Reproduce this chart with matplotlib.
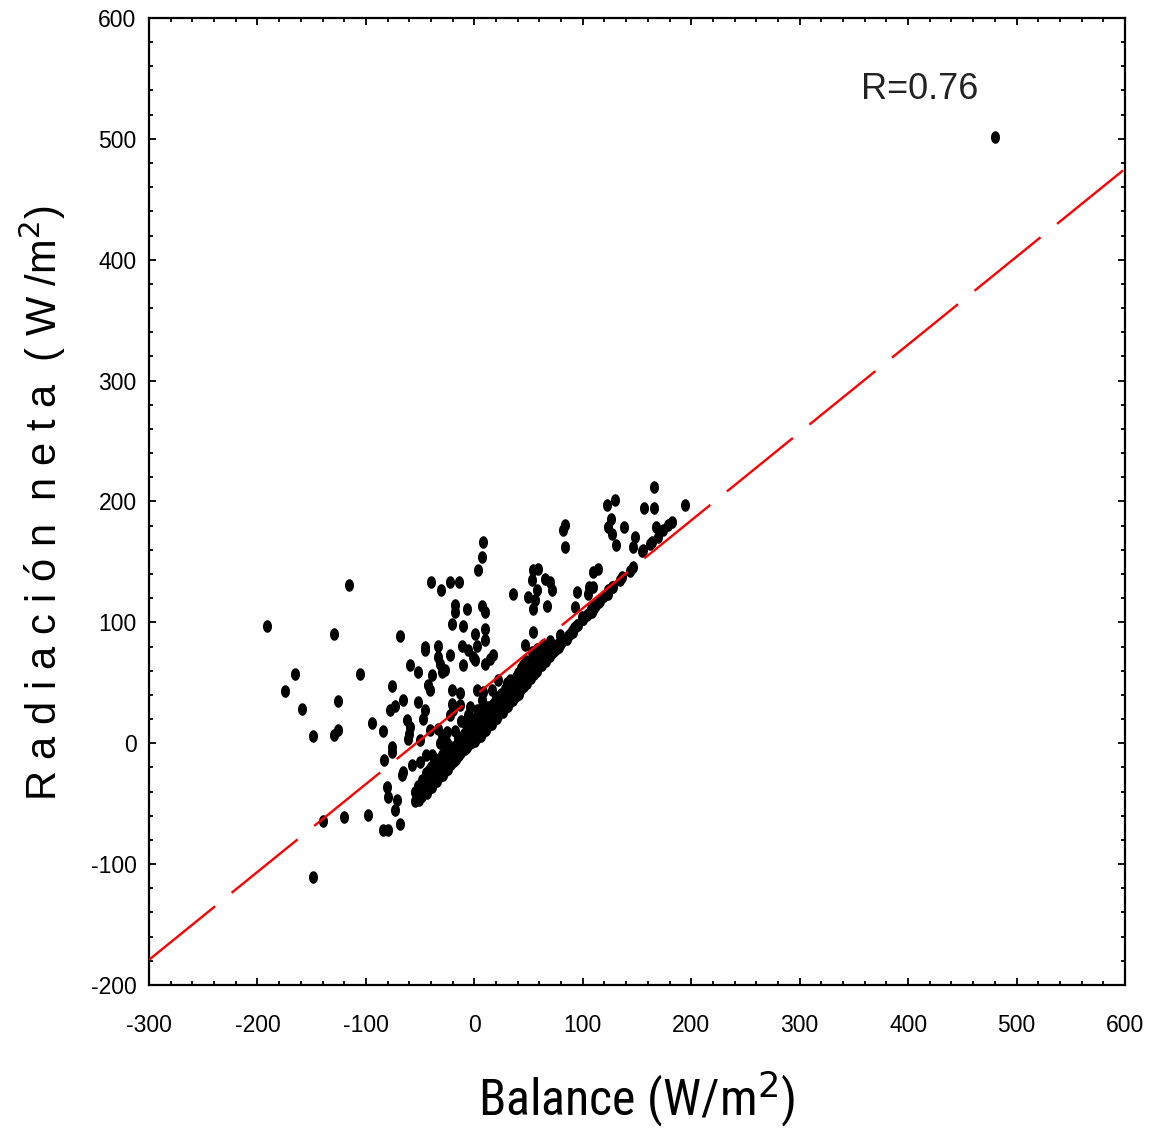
import numpy as np
import matplotlib
matplotlib.use("Agg")
import matplotlib.pyplot as plt
from matplotlib.path import Path
from matplotlib.ticker import MultipleLocator
from matplotlib import font_manager

plt.rcParams["axes.unicode_minus"] = False

# ---------------- data ----------------
outlier_x = [-191.5, -165.3, -174.3, -158.6, -148.5, -115.6, -129.4, -126.0, -129.4, -126.0,
             -140.0, -120.0, -149.0, -105.4, -94.6, -98.0, -84.5, -76.2, -69.0, -83.0,
             -76.2, -76.2, -80.8, -79.3, -71.6, -73.1, -68.5, -83.9, -79.3, -72.8,
             -77.7, -65.5, -62.3, -59.3, -60.9, -59.9, -50.0, -57.7, -50.0, -65.5,
             -66.9, -59.3, -51.6, -51.6, -45.5, -47.0, -45.5, -45.5, -33.2, -39.3,
             -42.4, -40.9, -40.0, -31.0, -22.4, -13.8]
outlier_y = [96.8, 57.6, 43.3, 28.7, 6.0, 131.0, 90.0, 35.0, 6.6, 10.8,
             -64.0, -61.0, -111.0, 57.6, 17.0, -59.0, 10.2, 47.4, 88.5, -14.0,
             -3.0, -7.2, -36.1, -44.4, -47.1, -55.4, -66.4, -72.0, -72.0, 30.9,
             27.3, 35.6, 19.0, 13.5, 3.9, 8.0, 2.5, -18.2, -15.5, -23.7,
             -26.5, 64.5, 59.0, 34.2, 27.3, 20.4, 79.7, 77.5, 80.2, 56.2,
             48.0, 43.8, 133.4, 127.0, 133.4, 133.4]

mid_x = [8.3, 6.8, 3.7, -17.8, -17.8, -7.0, 6.8, 9.9, -20.8, -10.1,
         0.6, 9.9, 9.9, -33.2, -22.4, -31.6, -27.0, -30.0, -11.6, 2.2,
         -5.5, -0.9, 0.6, 9.9, 14.5, 17.5, -10.1, -20.8, -13.2, 2.2,
         8.3, 16.0, 22.1, -20.8, -19.4, -13.2, -22.4, -4.0, -5.5, 2.2,
         11.4, 6.8, -40.9, -33.2, -30.0, -25.5, -39.3, -36.2]
mid_y = [166.5, 154.0, 143.7, 114.0, 108.6, 111.4, 113.3, 108.6, 99.0, 96.8,
         90.2, 94.9, 85.2, 71.4, 72.8, 65.9, 60.4, 59.0, 80.2, 80.2,
         77.5, 71.4, 68.7, 65.9, 70.0, 72.8, 64.5, 43.8, 41.6, 43.8,
         42.4, 43.8, 52.1, 32.8, 27.3, 31.4, 23.2, 30.0, 23.2, 27.3,
         30.0, 35.6, 10.8, 12.2, 6.6, 9.3, -9.9, -12.7]

right_x = [36.0, 54.4, 59.0, 52.9, 65.2, 69.8, 57.5, 71.4, 49.8, 56.0,
           66.8, 54.4, 54.4, 46.8, 63.6, 52.9, 68.2, 72.8, 77.5, 82.0,
           79.0, 85.2, 91.3, 92.9, 99.0, 92.9, 105.1, 108.2, 108.2, 109.7,
           106.0, 94.3, 114.3, 109.7, 83.5, 81.9, 83.5, 123.5, 128.0, 135.9,
           134.4, 146.6, 143.6, 126.7, 123.6, 155.8, 162.0, 165.4, 129.5, 122.4,
           156.8, 165.4, 194.3, 125.8, 123.6, 126.7, 137.8, 130.7, 148.5, 146.4,
           154.9, 167.3, 163.6, 169.7, 174.3, 178.9, 182.6, 480.2]
right_y = [123.8, 143.0, 144.5, 134.8, 136.2, 133.4, 126.5, 126.5, 121.0, 118.3,
           113.3, 111.4, 92.0, 81.0, 81.0, 75.5, 74.2, 76.9, 82.5, 85.2,
           89.3, 86.6, 92.0, 96.2, 104.5, 112.7, 123.8, 112.7, 108.6, 129.3,
           129.3, 125.2, 144.5, 141.7, 180.3, 176.2, 162.4, 126.5, 129.3, 137.6,
           134.8, 145.8, 142.5, 129.3, 123.8, 159.6, 165.2, 212.0, 201.6, 197.4,
           195.0, 195.0, 197.4, 185.3, 179.0, 173.5, 179.0, 163.8, 170.6, 162.4,
           158.8, 179.0, 166.5, 170.6, 176.8, 180.9, 183.0, 501.2]

band_x = [-55, -53, -51, -50, -48, -47, -45, -44, -43, -42, -40, -39, -38, -37, -35, -34,
          -33, -32, -30, -29, -28, -27, -25, -24, -23, -22, -20, -19, -18, -17, -15, -14,
          -13, -12, -10, -9, -8, -7, -5, -4, -3, -2, 0, 1, 2, 3, 5, 6, 7, 8, 10, 11, 12,
          13, 15, 16, 17, 18, 20, 21, 22, 23, 25, 26, 27, 28, 30, 31, 32, 33, 35, 36, 37,
          38, 40, 41, 42, 43, 45, 46, 48, 49, 50, 52, 54, 55, 57, 58, 60, 62, 64, 66, 68,
          70, 73, 75, 78, 80, 84, 88, 92, 96, 100, 104, 108, 112, 116, 120]
band_y = [-48, -45, -47, -42, -44, -40, -38, -41, -35, -37, -33, -36, -30, -32, -28, -31,
          -25, -27, -22, -26, -20, -23, -18, -21, -14, -17, -12, -15, -9, -13, -8, -10,
          -4, -7, -2, -5, 1, -3, 2, 0, 5, 1, 4, 2, 8, 5, 9, 6, 12, 9, 13, 11, 17,
          14, 18, 16, 22, 19, 23, 21, 27, 24, 28, 26, 32, 29, 33, 31, 37, 34, 38, 36, 42,
          39, 43, 41, 47, 45, 48, 47, 53, 50, 55, 54, 60, 57, 62, 60, 66, 65, 70, 68, 73,
          72, 76, 78, 80, 83, 86, 90, 95, 98, 103, 106, 111, 114, 118, 122]

band2_x = [-48, -44, -40, -36, -32, -28, -24, -20, -16, -12, -8, -4, 0, 4, 8, 12, 16, 20,
           24, 28, 32, 36, 40, 44, 48, 52, 56, 60, 64, 68, 72, 76, 80, 86, 90, 95, 100,
           105, 110, 115]
band2_y = [-43, -38, -34, -30, -27, -22, -19, -14, -11, -7, -3, 0, 5, 8, 13, 16, 21, 24,
           29, 32, 37, 40, 45, 48, 53, 56, 61, 64, 68, 71, 75, 79, 83, 89, 93, 98, 103,
           107, 112, 117]

band3_x = [-50, -46, -42, -38, -34, -30, -26, -22, -18, -14, -10, -6, -2, 2, 6, 10, 14,
           18, 22, 26, 30, 34, 38, 42, 46, 50, 54, 58]
band3_y = [-38, -33, -28, -26, -20, -17, -13, -8, -6, -1, 2, 7, 10, 15, 18, 22, 27,
           30, 35, 38, 42, 47, 50, 55, 58, 62, 67, 70]

band4_x = [-40, -35, -30, -25, -20, -15, -10, -5, 0, 5, 10, 15, 20, 25, 30, 35, 40, 45,
           50, 55, 60, 65, 70]
band4_y = [-24, -18, -14, -8, -4, 2, 7, 11, 17, 21, 27, 31, 37, 41, 46, 51, 56, 61,
           66, 70, 76, 80, 85]

upper_band_x = [-45, -40, -35, -30, -28, -25, -20, -15, -10, -8, -5, 0, 3, 5, 8, 12, 15,
                18, 20, 25, 28, 30, 33, 35, 38, 40, 43, 45, 48, 50, 55, 58, 62, -48, -42,
                -38, -52, -55, -45, -32, -18, -12, -2, 6, -36, -26, -16, -6, 4, 14, 24, 34,
                44, -44, -34, -24, -14, -4, 10, 20, 30]
upper_band_y = [-25, -20, -15, -10, -2, 0, -3, 5, 8, 15, 12, 15, 18, 22, 20, 28, 30,
                33, 38, 40, 45, 50, 52, 48, 55, 58, 62, 65, 68, 65, 72, 78, 80, -30, -22,
                -18, -35, -40, -10, 0, 10, 18, 20, 28, -24, -14, -4, 6, 14, 24, 34, 44,
                54, -32, -20, -8, 2, 10, 18, 30, 40]

fit_x = [-300, 600]
fit_slope, fit_intercept = 0.727, 39.0

xticks = [-300, -200, -100, 0, 100, 200, 300, 400, 500, 600]
yticks = [-200, -100, 0, 100, 200, 300, 400, 500, 600]

# ---------------- fonts ----------------
font = "Liberation Sans"
names = {f.name for f in font_manager.fontManager.ttflist}
narrow = None
for cand in ["Liberation Sans Narrow", "Arial Narrow", "Roboto Condensed",
             "Open Sans Condensed", "DejaVu Sans Condensed"]:
    if cand in names:
        narrow = cand
        break
if narrow is None:
    for f in font_manager.fontManager.ttflist:
        if str(f.stretch) in ("condensed", "semi-condensed") and "Sans" in f.name:
            narrow = f.name
            break

# ---------------- plotting ----------------
fig = plt.figure(figsize=(11.51, 11.36), dpi=100)
ax = fig.add_axes([0.1295, 0.1329, 0.8479, 0.8513])

t = np.linspace(0, 2 * np.pi, 41)
ellipse = Path(np.column_stack([0.72 * np.cos(t), np.sin(t)]))

all_x = (outlier_x + mid_x + right_x + band_x + band2_x + band3_x + band4_x
         + upper_band_x)
all_y = (outlier_y + mid_y + right_y + band_y + band2_y + band3_y + band4_y
         + upper_band_y)

fx = np.array(fit_x, dtype=float)
ax.plot(fx, fit_slope * fx + fit_intercept, color="#ff0000", lw=1.7,
        dashes=(36, 9), zorder=3)
ax.scatter(all_x, all_y, s=82, marker=ellipse, color="black", linewidths=0, zorder=2)

ax.set_xlim(-300, 600)
ax.set_ylim(-200, 600)
ax.set_xticks(xticks)
ax.set_yticks(yticks)
ax.xaxis.set_minor_locator(MultipleLocator(20))
ax.yaxis.set_minor_locator(MultipleLocator(20))

ax.tick_params(which="both", direction="in", top=True, right=True, width=1.3)
ax.tick_params(which="major", length=5)
ax.tick_params(which="minor", length=3)
ax.tick_params(axis="x", which="major", pad=21)
ax.tick_params(axis="y", which="major", pad=9)
for lab in ax.get_xticklabels() + ax.get_yticklabels():
    lab.set_fontfamily(font)
    lab.set_fontsize(16.5)
for s in ax.spines.values():
    s.set_linewidth(1.6)

ax.text(357, 533, "R=0.76", fontsize=26, family=font, color="#222222")

fig.text(0.037, 0.557, "R a d i a c i ó n  n e t a  ( W /m$^2$)", rotation=90,
         ha="center", va="center", fontsize=30, family=font)
if narrow is not None:
    fig.text(0.553, 0.032, "Balance (W/m$^2$)", ha="center", va="center",
             fontsize=36, family=[narrow, font])
else:
    fig.text(0.553, 0.032, "Balance (W/m$^2$)", ha="center", va="center",
             fontsize=34, family=font)

fig.savefig("out.png", dpi=100)
